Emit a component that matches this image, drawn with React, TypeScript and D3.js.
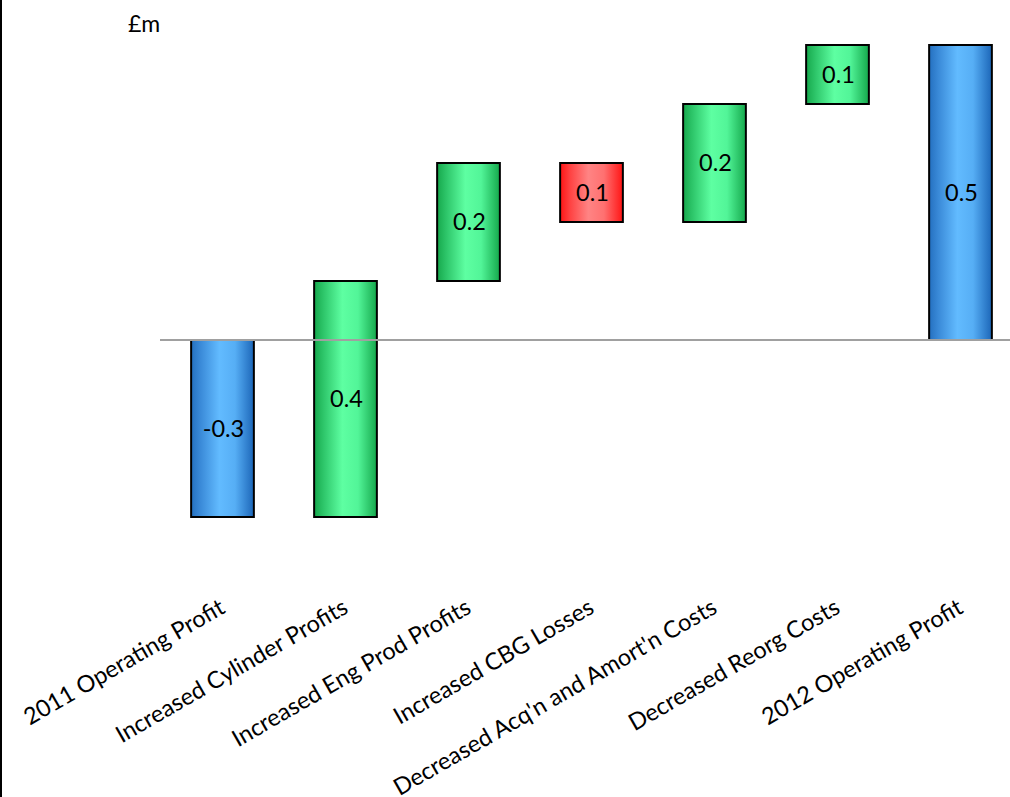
import React from "react";
import * as d3 from "d3";

const categories = [
  "2011 Operating Profit",
  "Increased Cylinder Profits",
  "Increased Eng Prod Profits",
  "Increased CBG Losses",
  "Decreased Acq'n and Amort'n Costs",
  "Decreased Reorg Costs",
  "2012 Operating Profit",
];
const values = [-0.3, 0.4, 0.2, -0.1, 0.2, 0.1, 0.5];
const kinds = ["total", "up", "up", "down", "up", "up", "total"];
const labels = ["-0.3", "0.4", "0.2", "0.1", "0.2", "0.1", "0.5"];
const unitLabel = "£m";

const W = 1010;
const H = 797;
const FONT = "Lato, 'Open Sans', sans-serif";

export default function App() {
  const x = d3
    .scaleBand<string>()
    .domain(categories)
    .range([161, 1022])
    .paddingInner(0.49)
    .paddingOuter(0.245);
  const y = d3.scaleLinear().domain([-0.3, 0.5]).range([517, 45]);

  let cum = 0;
  const bars = categories.map((c, i) => {
    let y0: number, y1: number;
    if (kinds[i] === "total") {
      y0 = 0;
      y1 = values[i];
      cum = values[i];
    } else {
      y0 = cum;
      y1 = cum + values[i];
      cum = y1;
    }
    return { c, y0, y1, kind: kinds[i], label: labels[i] };
  });

  const fillFor = (k: string) =>
    k === "total" ? "url(#gBlue)" : k === "up" ? "url(#gGreen)" : "url(#gRed)";

  return (
    <svg
      width={W}
      height={H}
      style={{ position: "absolute", left: 0, top: 0, background: "#fff" }}
      fontFamily={FONT}
    >
      <defs>
        <linearGradient id="gBlue" x1="0" x2="1" y1="0" y2="0">
          <stop offset="0" stopColor="#2470c0" />
          <stop offset="0.15" stopColor="#3a8ad8" />
          <stop offset="0.45" stopColor="#62bbff" />
          <stop offset="0.7" stopColor="#56aef5" />
          <stop offset="1" stopColor="#1c66b8" />
        </linearGradient>
        <linearGradient id="gGreen" x1="0" x2="1" y1="0" y2="0">
          <stop offset="0" stopColor="#16a84c" />
          <stop offset="0.15" stopColor="#2ec66a" />
          <stop offset="0.45" stopColor="#5effa2" />
          <stop offset="0.7" stopColor="#52f598" />
          <stop offset="1" stopColor="#15a84c" />
        </linearGradient>
        <linearGradient id="gRed" x1="0" x2="1" y1="0" y2="0">
          <stop offset="0" stopColor="#ff1414" />
          <stop offset="0.15" stopColor="#ff4040" />
          <stop offset="0.45" stopColor="#ff8484" />
          <stop offset="0.7" stopColor="#ff7070" />
          <stop offset="1" stopColor="#ff1414" />
        </linearGradient>
      </defs>
      <line x1={1} x2={1} y1={0} y2={H} stroke="#000" strokeWidth={2} />
      <text x={128} y={32} fontSize={23} fill="#000">
        {unitLabel}
      </text>
      {bars.map((b) => {
        const top = y(Math.max(b.y0, b.y1));
        const bot = y(Math.min(b.y0, b.y1));
        const bx = x(b.c)!;
        return (
          <g key={b.c}>
            <rect
              x={bx}
              y={top}
              width={x.bandwidth()}
              height={bot - top}
              fill={fillFor(b.kind)}
              stroke="#000"
              strokeWidth={2}
            />
            <text
              x={bx + x.bandwidth() / 2 + 1}
              y={(top + bot) / 2 + 8}
              textAnchor="middle"
              fontSize={23.5}
              fill="#000"
            >
              {b.label}
            </text>
          </g>
        );
      })}
      <line x1={160} x2={W} y1={y(0)} y2={y(0)} stroke="#a0a0a0" strokeWidth={2} />
      {categories.map((c) => {
        const cx = x(c)! + x.bandwidth() / 2;
        return (
          <text
            key={c}
            transform={`translate(${cx + 4},${612}) rotate(-30)`}
            textAnchor="end"
            fontSize={23.5}
            fill="#000"
          >
            {c}
          </text>
        );
      })}
    </svg>
  );
}
